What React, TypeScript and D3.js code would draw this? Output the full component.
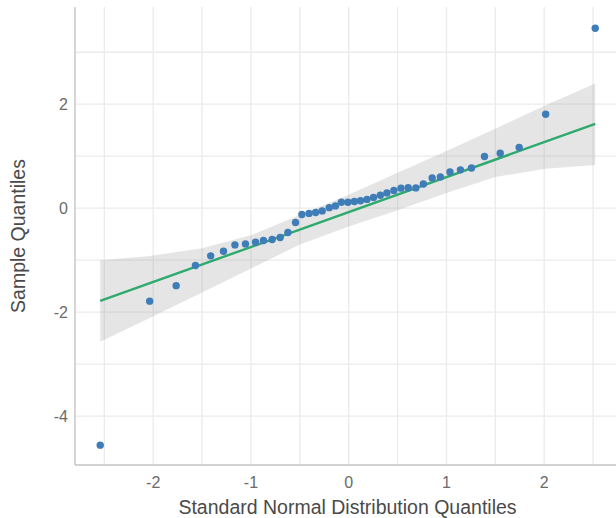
import React from 'react';
import * as d3 from 'd3';

// values
const theoretical = [
  -2.542, -2.036, -1.765, -1.568, -1.412, -1.281, -1.164, -1.056, -0.953, -0.872,
  -0.783, -0.701, -0.622, -0.544, -0.479, -0.406, -0.338, -0.271, -0.199, -0.136,
  -0.075, -0.008, 0.058, 0.121, 0.187, 0.254, 0.324, 0.391, 0.462, 0.535,
  0.609, 0.687, 0.764, 0.854, 0.938, 1.036, 1.143, 1.256, 1.389, 1.55,
  1.744, 2.015, 2.522
];
const sample = [
  -4.558, -1.788, -1.49, -1.102, -0.917, -0.827, -0.706, -0.687, -0.654, -0.621,
  -0.602, -0.563, -0.467, -0.275, -0.121, -0.1, -0.083, -0.052, 0.01, 0.044,
  0.115, 0.115, 0.129, 0.144, 0.169, 0.206, 0.25, 0.294, 0.34, 0.385,
  0.394, 0.39, 0.465, 0.583, 0.602, 0.696, 0.737, 0.773, 0.994, 1.058,
  1.169, 1.808, 3.462
];

const lineX = [-2.542, 2.522];
const lineY = [-1.783, 1.621];

const bandX = [-2.542, -2.036, -1.5, -1.0, -0.5, 0, 0.5, 1.0, 1.5, 2.015, 2.522];
const bandUpper = [-1.0, -0.92, -0.77, -0.52, -0.13, 0.26, 0.68, 1.1, 1.53, 1.98, 2.4];
const bandLower = [-2.57, -2.11, -1.62, -1.16, -0.7, -0.35, -0.04, 0.29, 0.6, 0.76, 0.83];

const xTicks = [-2, -1, 0, 1, 2];
const xMinor = [-2.5, -1.5, -0.5, 0.5, 1.5, 2.5];
const yTicks = [-4, -2, 0, 2];
const yMinor = [-3, -1, 1, 3];

const W = 616;
const H = 518;
const left = 75;
const top = 7;
const bottom = 465;
const font = '"Liberation Sans", Arial, sans-serif';

export default function App() {
  const x = d3.scaleLinear().domain([-2.8, 2.8]).range([left, 622.4]);
  const y = d3.scaleLinear().domain([-4.94, 3.87]).range([bottom, top]);

  const band = d3.area<number>()
    .x((d, i) => x(bandX[i]))
    .y0((d, i) => y(bandLower[i]))
    .y1((d, i) => y(bandUpper[i]));

  const line = d3.line<number>()
    .x((d, i) => x(lineX[i]))
    .y(d => y(d));

  const gridColor = '#ebebeb';

  return (
    <svg width={W} height={H} style={{position: 'absolute', left: 0, top: 0, background: '#fff'}}>
      <g>
        {[...xMinor, ...xTicks].map(v => (
          <line key={'gx' + v} x1={x(v)} x2={x(v)} y1={top} y2={bottom}
            stroke={gridColor} strokeWidth={1.3} />
        ))}
        {[...yMinor, ...yTicks].map(v => (
          <line key={'gy' + v} x1={left} x2={W} y1={y(v)} y2={y(v)}
            stroke={gridColor} strokeWidth={1.3} />
        ))}
      </g>

      <path d={band(bandX) || ''} fill="#999999" fillOpacity={0.25} />
      <path d={line(lineY) || ''} fill="none" stroke="#2eaa6e" strokeWidth={2.4} />

      {theoretical.map((t, i) => (
        <circle key={i} cx={x(t)} cy={y(sample[i])} r={3.7} fill="#3f7db8" />
      ))}

      <line x1={left} x2={left} y1={top} y2={bottom} stroke="#c4c4c4" strokeWidth={1.4} />
      <line x1={left} x2={W} y1={bottom} y2={bottom} stroke="#c4c4c4" strokeWidth={1.4} />

      {xTicks.map(v => (
        <text key={'tx' + v} x={x(v)} y={488} textAnchor="middle"
          fontFamily={font} fontSize={16} fill="#6b6b6b">{v}</text>
      ))}
      {yTicks.map(v => (
        <text key={'ty' + v} x={68} y={y(v) + 6} textAnchor="end"
          fontFamily={font} fontSize={16} fill="#6b6b6b">{v}</text>
      ))}

      <text x={347.5} y={514} textAnchor="middle" fontFamily={font} fontSize={19.5}
        fill="#4a4a4a">Standard Normal Distribution Quantiles</text>
      <text transform={`translate(25, ${(top + bottom) / 2}) rotate(-90)`} textAnchor="middle"
        fontFamily={font} fontSize={19.5} fill="#4a4a4a">Sample Quantiles</text>
    </svg>
  );
}
